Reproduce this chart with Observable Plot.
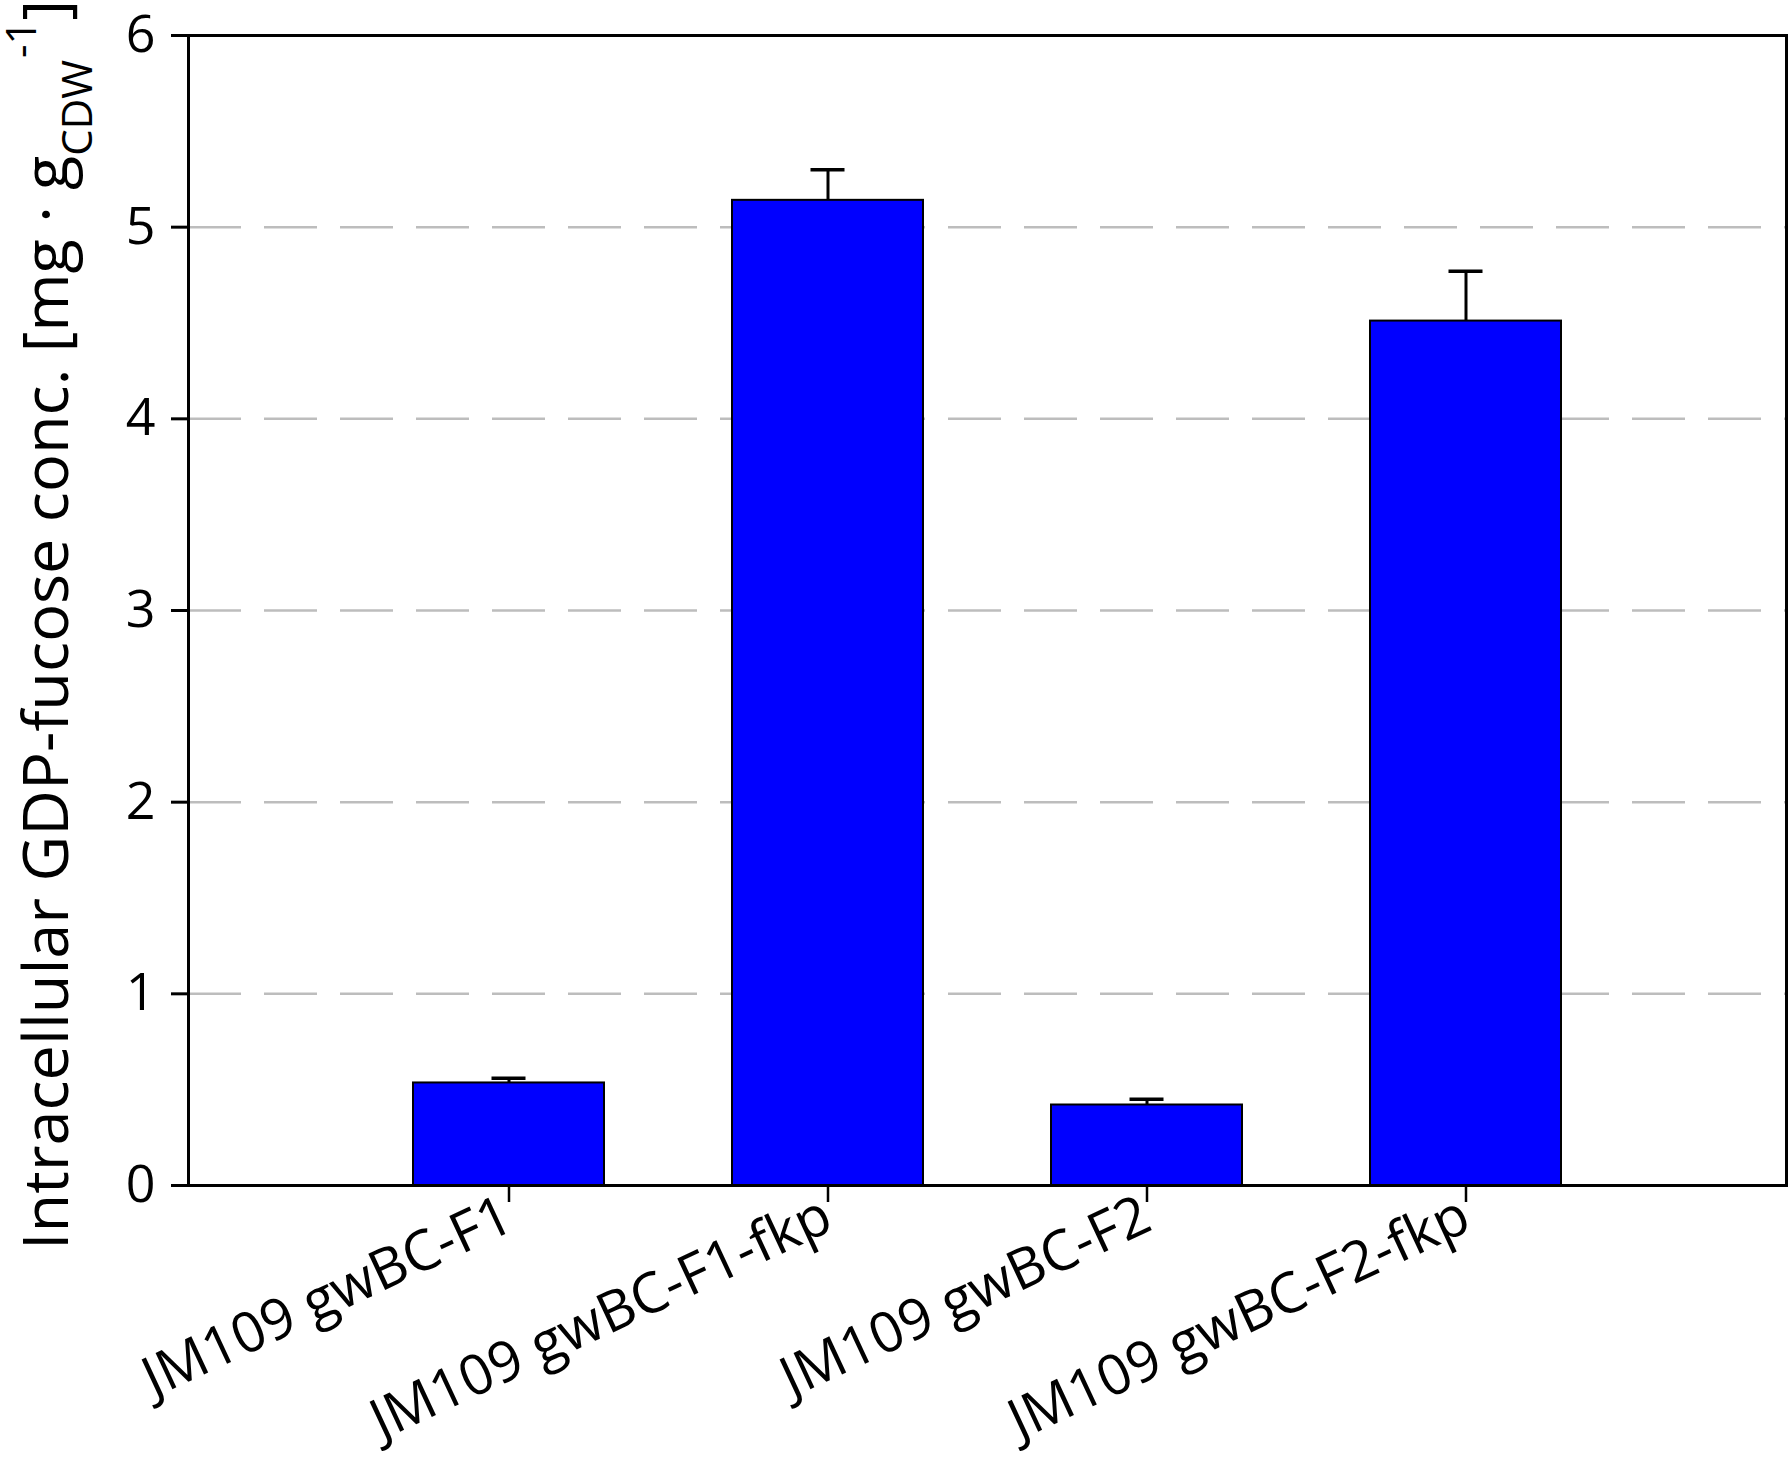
<!DOCTYPE html>
<html>
<head>
<meta charset="utf-8">
<script src="https://cdn.jsdelivr.net/npm/d3@7"></script>
<script src="https://cdn.jsdelivr.net/npm/@observablehq/plot@0.6"></script>
<style>
  html, body { margin: 0; padding: 0; background: #fff; }
  #chart { width: 1791px; height: 1461px; }
</style>
</head>
<body>
<div id="chart"></div>
<script>
const strains = ["JM109 gwBC-F1", "JM109 gwBC-F1-fkp", "JM109 gwBC-F2", "JM109 gwBC-F2-fkp"];
const means = [0.535, 5.14, 0.42, 4.51];
const upper = [0.56, 5.30, 0.45, 4.77];
const yTicks = [0, 1, 2, 3, 4, 5, 6];
const gridValues = [1, 2, 3, 4, 5];
const yLabelMain = "Intracellular GDP-fucose conc. [mg \u00b7 g";
const yLabelSub = "CDW";
const yLabelSup = "-1";
const yLabelEnd = "]";

const data = strains.map((s, i) => ({strain: s, mean: means[i], hi: upper[i]}));

const chart = Plot.plot({
  width: 1791,
  height: 1461,
  marginTop: 35,
  marginLeft: 188,
  marginRight: 5,
  marginBottom: 276,
  style: {fontFamily: "'Open Sans', sans-serif", color: "black", background: "white"},
  x: {domain: strains, paddingInner: 0.4, paddingOuter: 0.7, label: null},
  y: {domain: [0, 6], label: null},
  marks: [
    Plot.gridY(gridValues, {stroke: "#bdbdbd", strokeOpacity: 1, strokeWidth: 2.5, strokeDasharray: "53,23"}),
    Plot.ruleX(data, {x: "strain", y1: "mean", y2: "hi", stroke: "black", strokeWidth: 3}),
    Plot.tickY(data, {x: "strain", y: "hi", stroke: "black", strokeWidth: 3.5, insetLeft: 78.5, insetRight: 78.5}),
    Plot.barY(data, {x: "strain", y: "mean", fill: "#0000ff", stroke: "black", strokeWidth: 2}),
    Plot.axisY({ticks: yTicks, tickSize: 17, tickPadding: 16, fontSize: 52, strokeWidth: 3, label: null, tickFormat: d => String(d)}),
    Plot.axisX({tickSize: 17, tickPadding: 10, fontSize: 56, strokeWidth: 2.5, tickRotate: -25, label: null}),
    Plot.frame({stroke: "black", strokeWidth: 3})
  ]
});

document.getElementById("chart").appendChild(chart);

const svg = d3.select(chart);
const t = svg.append("text")
  .attr("transform", "translate(68,1250) rotate(-90)")
  .attr("font-family", "'Open Sans', sans-serif")
  .attr("font-size", 63)
  .attr("fill", "black")
  .attr("text-anchor", "start");
t.append("tspan").text(yLabelMain);
t.append("tspan").attr("font-size", 42).attr("dy", 24).text(yLabelSub);
t.append("tspan").attr("font-size", 42).attr("dy", -56).attr("dx", 2).text(yLabelSup);
t.append("tspan").attr("dy", 32).text(yLabelEnd);
</script>
</body>
</html>
